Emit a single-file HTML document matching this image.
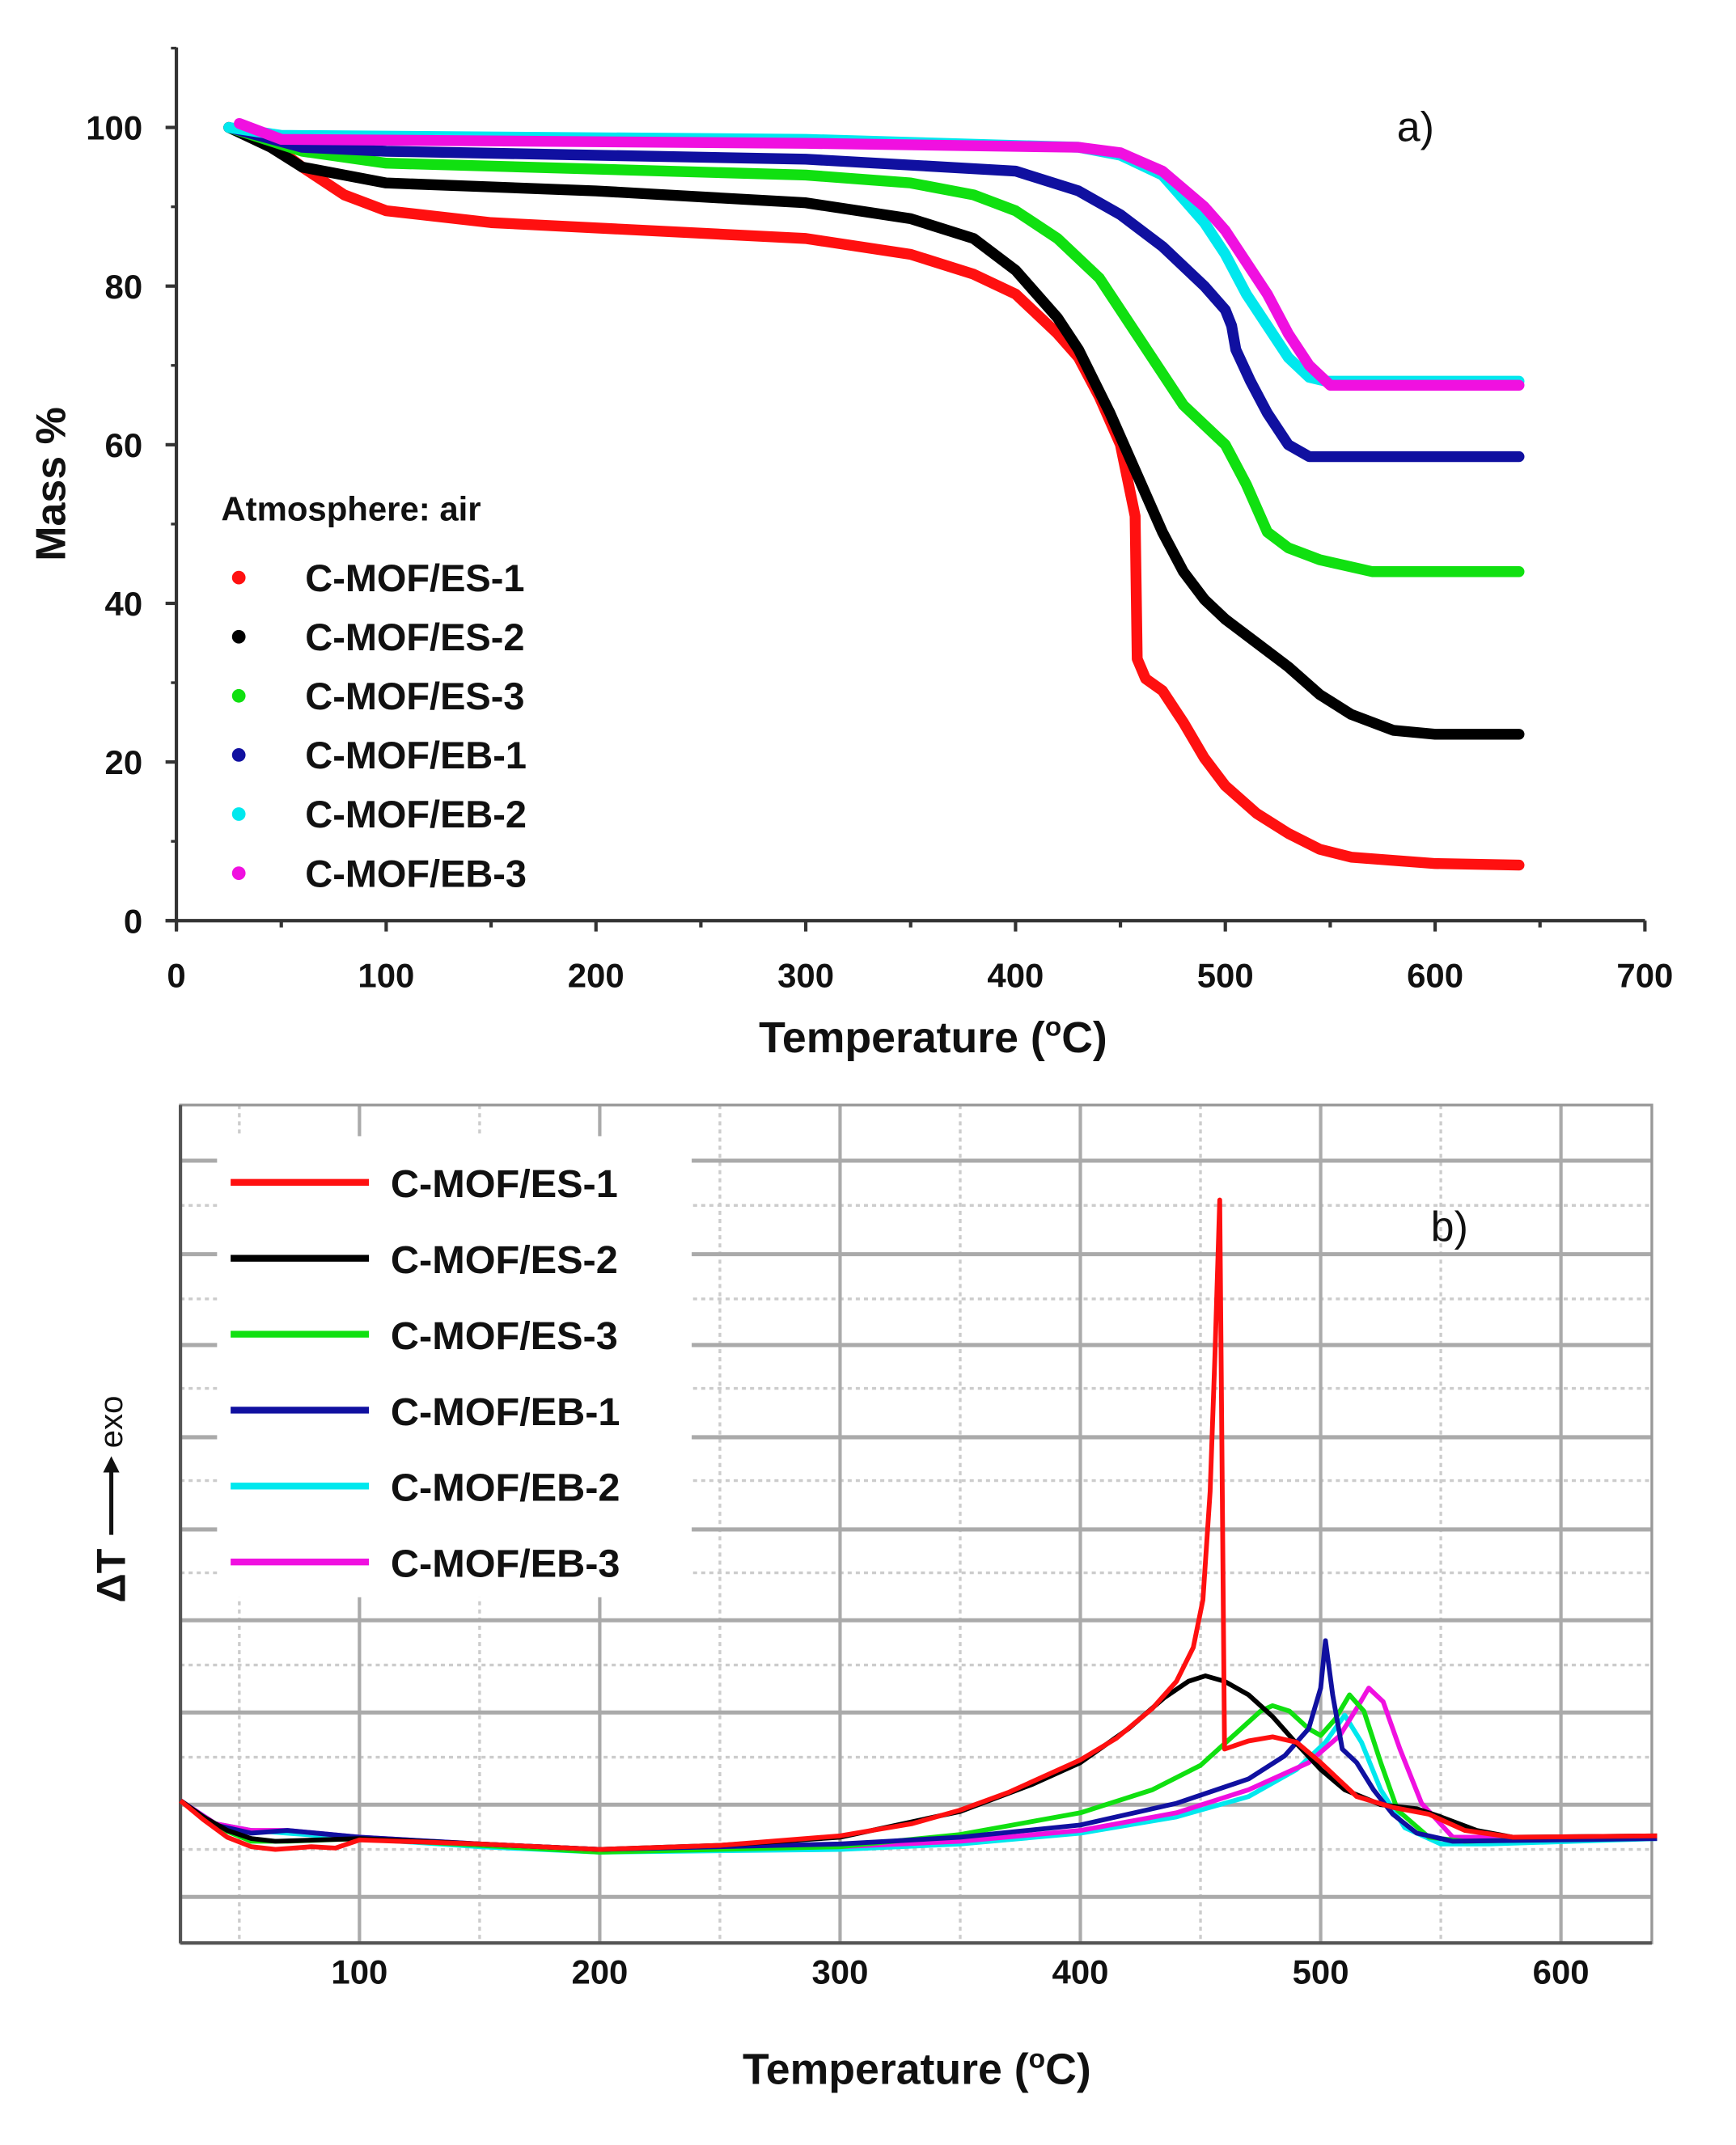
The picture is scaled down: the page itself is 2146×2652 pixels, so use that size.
<!DOCTYPE html>
<html><head><meta charset="utf-8"><style>
html,body{margin:0;padding:0;background:#fff;}
svg{display:block;}
text{font-family:"Liberation Sans",Arial,sans-serif;font-weight:bold;fill:#111;}
</style></head><body>
<svg id="s" width="2146" height="2652" viewBox="0 0 1280 1582" xmlns="http://www.w3.org/2000/svg">
<rect width="1280" height="1582" fill="#fff"/>
<g id="a"></g>
<g id="b"></g>
</svg>
<script>
const NS="http://www.w3.org/2000/svg";
function el(p,t,a,txt){const e=document.createElementNS(NS,t);for(const k in a)e.setAttribute(k,a[k]);if(txt!==undefined)e.textContent=txt;p.appendChild(e);return e;}
const A=document.getElementById('a'),B=document.getElementById('b');
const ax=t=>130+t*1.547, ay=m=>679-m*5.85;
el(A,'line',{x1:130,y1:35,x2:130,y2:686,stroke:'#333','stroke-width':2.5});
el(A,'line',{x1:122,y1:679,x2:1213,y2:679,stroke:'#333','stroke-width':2.5});
for(let m=0;m<=100;m+=20){el(A,'line',{x1:122,y1:ay(m),x2:130,y2:ay(m),stroke:'#333','stroke-width':2.5});
el(A,'text',{x:105,y:ay(m)+9,'text-anchor':'end','font-size':25},m);}
for(let m=10;m<=110;m+=20){el(A,'line',{x1:126,y1:ay(m),x2:130,y2:ay(m),stroke:'#333','stroke-width':2});}
for(let t=0;t<=700;t+=50){const big=t%100==0;el(A,'line',{x1:ax(t),y1:679,x2:ax(t),y2:big?687:684,stroke:'#333','stroke-width':2.5});
if(big)el(A,'text',{x:ax(t),y:728,'text-anchor':'middle','font-size':25},t);}
const tl=el(A,'text',{x:688,y:776,'text-anchor':'middle','font-size':32},'');
tl.innerHTML='Temperature (<tspan dy="-12" font-size="20">o</tspan><tspan dy="12">C)</tspan>';
el(A,'text',{x:48,y:357,'text-anchor':'middle','font-size':31,transform:'rotate(-90 48 357)'},'Mass %');
el(A,'text',{x:1030,y:104,'font-size':31,style:'font-weight:normal'},'a)');
const TA={
red:[[25,100],[45,98],[60,95],[80,91.5],[100,89.5],[150,88],[300,86],[350,84],[380,81.5],[400,79],[420,74],[430,71],[440,66],[450,60],[457,51],[458,33],[462,30.5],[470,29],[480,25],[490,20.5],[500,17],[515,13.5],[530,11],[545,9],[560,8],[600,7.2],[640,7]],
black:[[25,100],[45,97.5],[60,95],[100,93],[200,92],[300,90.5],[350,88.5],[380,86],[400,82],[420,76],[430,72],[445,64],[460,55],[470,49],[480,44],[490,40.5],[500,38],[515,35],[530,32],[545,28.5],[560,26],[580,24],[600,23.5],[640,23.5]],
green:[[25,100],[60,97],[100,95.5],[300,94],[350,93],[380,91.5],[400,89.5],[420,86],[440,81],[460,73],[480,65],[500,60],[510,55],[520,49],[530,47],[545,45.5],[570,44],[640,44]],
blue:[[25,100],[60,97.5],[100,97],[300,96],[400,94.5],[430,92],[450,89],[470,85],[490,80],[500,77],[503,75],[505,72],[512,68],[520,64],[530,60],[540,58.5],[640,58.5]],
cyan:[[25,100],[50,99],[300,98.5],[430,97.5],[450,96.5],[470,94],[490,88],[500,84],[510,79],[520,75],[530,71],[540,68.5],[548,68],[640,68]],
mag:[[30,100.5],[50,98.5],[300,98],[430,97.5],[450,96.8],[470,94.5],[490,90],[500,87],[510,83],[520,79],[530,74],[540,70],[550,67.5],[640,67.5]]};
const col={red:'#ff1010',black:'#000',green:'#10e010',blue:'#1010a0',cyan:'#00e8ee',mag:'#f010e0'};
const order=['red','black','green','blue','cyan','mag'];
for(const k of order){el(A,'polyline',{points:TA[k].map(p=>ax(p[0])+','+ay(p[1])).join(' '),fill:'none',stroke:col[k],'stroke-width':8,'stroke-linejoin':'round','stroke-linecap':'round'});}
el(A,'text',{x:163,y:384,'font-size':25},'Atmosphere: air');
const names=['C-MOF/ES-1','C-MOF/ES-2','C-MOF/ES-3','C-MOF/EB-1','C-MOF/EB-2','C-MOF/EB-3'];
order.forEach((k,i)=>{const y=426+i*43.6;el(A,'circle',{cx:176,cy:y,r:5,fill:col[k]});el(A,'text',{x:225,y:y+10,'font-size':28},names[i]);});
const bx=t=>265+(t-100)*1.772;
const L=133,R=1218,T=815,Bt=1433;
const solid=[856,925,992,1060,1128,1195,1263,1331,1399],dash=[889,958,1024,1092,1160,1228,1296,1364];
for(const y of dash)el(B,'line',{x1:L,y1:y,x2:R,y2:y,stroke:'#ccc','stroke-width':2,'stroke-dasharray':'3,3'});
for(let t=50;t<=550;t+=100)el(B,'line',{x1:bx(t),y1:T,x2:bx(t),y2:Bt,stroke:'#ccc','stroke-width':2,'stroke-dasharray':'3,3'});
for(const y of solid)el(B,'line',{x1:L,y1:y,x2:R,y2:y,stroke:'#aaa','stroke-width':3});
for(let t=100;t<=600;t+=100)el(B,'line',{x1:bx(t),y1:T,x2:bx(t),y2:Bt,stroke:'#aaa','stroke-width':2.5});
el(B,'rect',{x:160,y:838,width:350,height:340,fill:'#fff'});
el(B,'rect',{x:L,y:T,width:R-L,height:Bt-T,fill:'none',stroke:'#999','stroke-width':2});
el(B,'line',{x1:L,y1:T,x2:L,y2:Bt,stroke:'#555','stroke-width':2.5});
el(B,'line',{x1:L,y1:Bt,x2:R,y2:Bt,stroke:'#555','stroke-width':2.5});
for(let t=100;t<=600;t+=100)el(B,'text',{x:bx(t),y:1463,'text-anchor':'middle','font-size':25},t);
const tb=el(B,'text',{x:676,y:1537,'text-anchor':'middle','font-size':32},'');
tb.innerHTML='Temperature (<tspan dy="-12" font-size="20">o</tspan><tspan dy="12">C)</tspan>';
el(B,'text',{x:1055,y:915,'font-size':31,style:'font-weight:normal'},'b)');
const g=el(B,'g',{transform:'rotate(-90 82 1090)'});
el(g,'text',{x:-10,y:1100,'font-size':30},'ΔT');
el(g,'line',{x1:40,y1:1090,x2:90,y2:1090,stroke:'#111','stroke-width':3});
el(g,'polygon',{points:'98,1090 86,1084 86,1096',fill:'#111'});
el(g,'text',{x:104,y:1098,'font-size':24,style:'font-weight:normal'},'exo');
const TB={
red:[[25.5,1328],[35,1342],[45,1355],[55,1362],[65,1364],[80,1362],[90,1363],[100,1357],[150,1360],[200,1364],[250,1361],[300,1354],[330,1345],[350,1335],[370,1322],[390,1306],[400,1298],[415,1282],[430,1260],[440,1240],[447,1215],[451,1180],[454,1100],[456,1000],[458,885],[460,1290],[470,1284],[480,1281],[490,1285],[500,1300],[515,1325],[530,1333],[545,1338],[560,1350],[580,1355],[640,1354]],
black:[[25.5,1328],[35,1340],[45,1350],[55,1356],[65,1358],[100,1356],[150,1360],[200,1364],[250,1361],[300,1355],[350,1336],[380,1316],[400,1300],[420,1275],[435,1252],[445,1240],[452,1236],[460,1240],[470,1250],[480,1266],[490,1286],[500,1305],[510,1320],[525,1331],[540,1334],[550,1340],[565,1350],[580,1355],[640,1354]],
green:[[25.5,1328],[40,1347],[55,1358],[70,1358],[100,1356],[150,1361],[200,1366],[300,1362],[350,1353],[400,1337],[430,1320],[450,1302],[465,1278],[475,1262],[480,1258],[487,1262],[495,1275],[500,1280],[506,1268],[512,1250],[518,1262],[525,1300],[532,1335],[545,1355],[560,1358],[640,1355]],
blue:[[25.5,1328],[40,1346],[55,1352],[70,1350],[100,1355],[150,1360],[200,1364],[300,1360],[350,1355],[400,1346],[440,1330],[470,1312],[485,1295],[495,1275],[500,1245],[502,1210],[505,1250],[509,1290],[515,1300],[522,1320],[530,1338],[540,1352],[555,1358],[640,1356]],
cyan:[[25.5,1328],[40,1345],[55,1350],[70,1352],[100,1356],[150,1362],[200,1366],[300,1364],[350,1360],[400,1352],[440,1340],[470,1325],[490,1305],[502,1285],[510,1265],[517,1285],[525,1320],[535,1348],[550,1360],[570,1360],[640,1356]],
mag:[[25.5,1328],[40,1345],[55,1350],[70,1350],[100,1355],[150,1360],[200,1364],[300,1362],[350,1358],[400,1350],[440,1337],[470,1320],[495,1300],[508,1280],[515,1260],[520,1245],[526,1255],[533,1290],[542,1330],[555,1355],[640,1355]]};
for(const k of ['cyan','mag','green','blue','black','red']){el(B,'polyline',{points:TB[k].map(p=>bx(p[0])+','+p[1]).join(' '),fill:'none',stroke:col[k],'stroke-width':3.5,'stroke-linejoin':'round'});}
order.forEach((k,i)=>{const y=872+i*56;el(B,'line',{x1:170,y1:y,x2:272,y2:y,stroke:col[k],'stroke-width':5});el(B,'text',{x:288,y:y+11,'font-size':29},names[i]);});
</script>
</body></html>
